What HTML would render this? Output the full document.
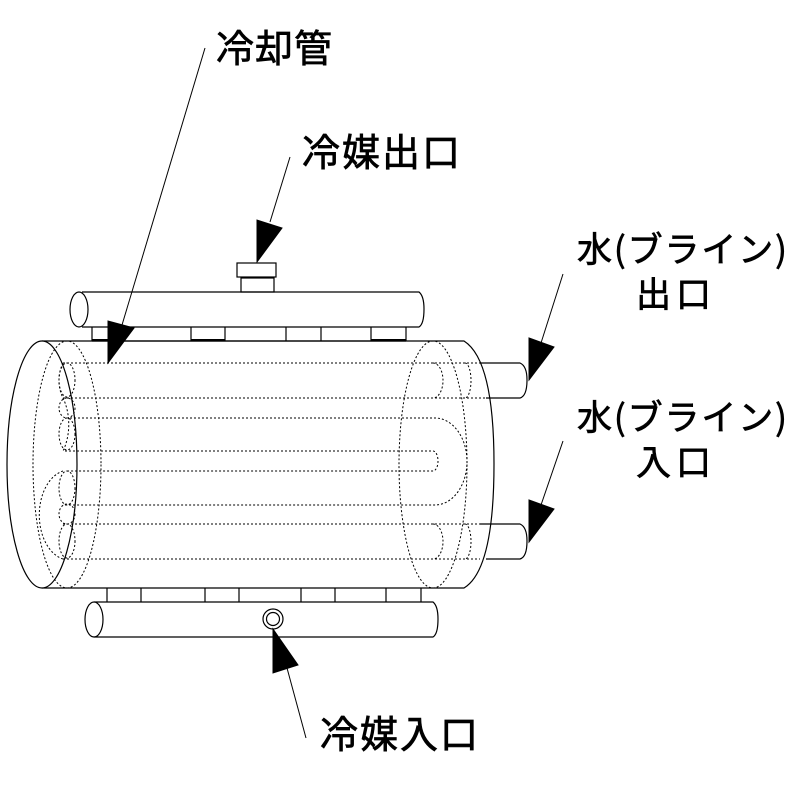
<!DOCTYPE html>
<html><head><meta charset="utf-8"><style>
html,body{margin:0;padding:0;background:#fff}
svg{display:block}
text{font-family:"Noto Sans CJK JP","Liberation Sans",sans-serif;fill:#000;stroke:#000;stroke-width:0.7}
</style></head><body>
<svg width="797" height="786" viewBox="0 0 797 786" xmlns="http://www.w3.org/2000/svg">
<g fill="none" stroke="#000" stroke-width="1.2">
<path d="M82,292 H419 Q424,296 424,309 Q424,324 419,327 H82"/>
<ellipse cx="79" cy="309.5" rx="9" ry="17.5" fill="#fff"/>
<rect x="241" y="278" width="33" height="14"/>
<rect x="237" y="263" width="39" height="14"/>
<path d="M92,327 V341 M92,341 H406 M406,327 V341 M191,327 V341 M225,327 V341 M286,327 V341 M321,327 V341 M371,327 V341"/>
<path d="M191,340 H225 M371,340 H406 M92,340 H108" stroke-width="2"/>
<path d="M42,341 H464 Q494,360 494,464 Q494,570 464,588 H42"/>
<ellipse cx="42" cy="464.5" rx="35" ry="123.5" fill="#fff"/>
<path d="M107,588 V602 M421,588 V602 M141,588 V602 M205,588 V602 M239,588 V602 M301,588 V602 M335,588 V602 M386,588 V602"/>
<path d="M94,602 H433 Q438,606 438,619 Q438,634 433,637 H94"/>
<ellipse cx="94" cy="619.5" rx="9" ry="17.5" fill="#fff"/>
<circle cx="273" cy="619" r="10"/>
<circle cx="273" cy="619" r="6.5"/>
<path d="M480,363 H520 Q527,366 527,380 Q527,396 520,398 H486"/>
<path d="M480,524 H520 Q527,527 527,541 Q527,557 520,559 H486"/>
</g>
<g fill="none" stroke="#000" stroke-width="1" stroke-dasharray="2,2">
<ellipse cx="67" cy="464.5" rx="34" ry="123.5"/>
<ellipse cx="433" cy="464.5" rx="34" ry="123.5"/>
<path d="M63,363 H480 M63,398 H490 M70,418 H435 A32,43.5 0 0 1 435,505 H63 M65,451 H433 A5,10 0 0 1 433,471 H65 M63,524 H480 M63,559 H480"/>
<path d="M433,363 A10,17.5 0 0 1 433,398 M433,524 A10,17.5 0 0 1 433,559 M465,363 A6,17.5 0 0 1 465,398 M465,524 A6,17.5 0 0 1 465,559"/>
<ellipse cx="67" cy="380" rx="8" ry="17"/>
<ellipse cx="67" cy="408" rx="8" ry="10"/>
<ellipse cx="67" cy="434" rx="8" ry="16"/>
<ellipse cx="67" cy="488" rx="8" ry="17"/>
<ellipse cx="67" cy="514" rx="8" ry="10"/>
<ellipse cx="67" cy="541" rx="8" ry="17"/>
<path d="M63,398 A30,45 0 0 1 63,451 M63,471 A30,45 0 0 0 63,559 M63,363 A30,35 0 0 0 63,398"/>
</g>
<g stroke="#000" stroke-width="1" fill="#000">
<line x1="205" y1="48" x2="122" y2="325"/>
<polygon points="108,363 108,321 134,328"/>
<line x1="290" y1="157" x2="270" y2="222"/>
<polygon points="257,262 257,220 282,228"/>
<line x1="563" y1="274" x2="541" y2="343"/>
<polygon points="529,380 529,338 554,347"/>
<line x1="563" y1="441" x2="541" y2="505"/>
<polygon points="529,542 529,500 554,509"/>
<line x1="306" y1="738" x2="287" y2="668"/>
<polygon points="273,629 273,673 298,665"/>
</g>
<text x="216" y="62" font-size="38" letter-spacing="1">冷却管</text>
<text x="302" y="166" font-size="38" letter-spacing="2">冷媒出口</text>
<text x="577" y="262" font-size="35" textLength="210" lengthAdjust="spacing">水(ブライン)</text>
<text x="636" y="307" font-size="35" letter-spacing="5">出口</text>
<text x="577" y="430" font-size="35" textLength="210" lengthAdjust="spacing">水(ブライン)</text>
<text x="636" y="475" font-size="35" letter-spacing="5">入口</text>
<text x="320" y="748" font-size="38" letter-spacing="2">冷媒入口</text>
</svg>
</body></html>
